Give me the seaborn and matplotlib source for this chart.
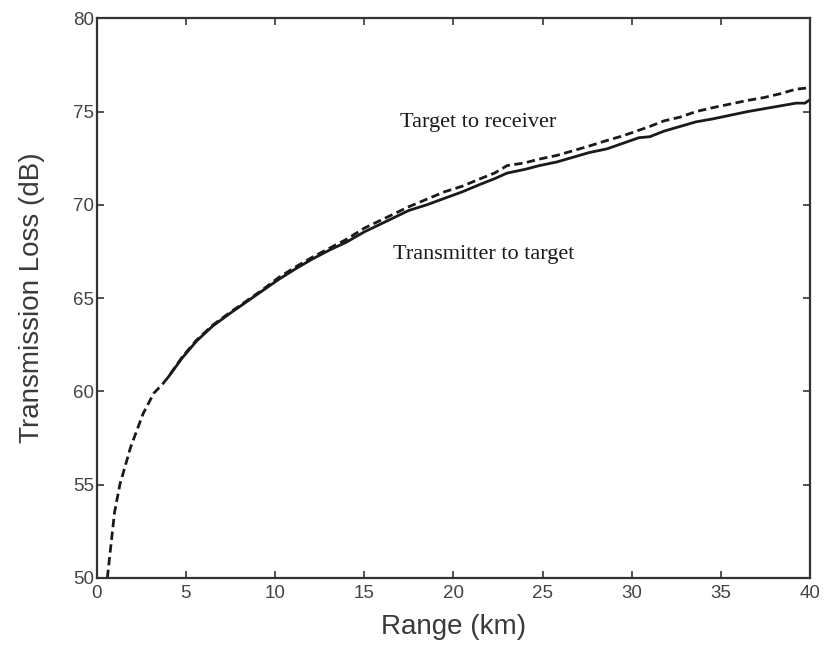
import matplotlib
matplotlib.use("Agg")
import matplotlib.pyplot as plt
import seaborn as sns
import pandas as pd

sns.set_style("ticks")
plt.rcParams['font.family'] = ['Liberation Sans', 'DejaVu Sans']

# values (range in km, transmission loss in dB)
rx_range = [0.6, 1.0, 1.3, 1.9, 2.6, 3.2, 3.7, 4.0, 4.8, 5.6, 6.5, 7.5, 8.4,
            9.3, 10.2, 11.2, 12.1, 13.1, 14.0, 15.0, 16.2, 17.5, 18.5, 19.5,
            20.5, 21.5, 22.3, 23.0, 24.0, 24.8, 25.8, 26.7, 27.6, 28.6, 29.5,
            30.4, 31.0, 31.8, 32.7, 33.6, 34.5, 35.5, 36.5, 37.4, 38.3, 39.2,
            39.7, 40.0]
target_to_rx = [50.0, 53.5, 55.0, 57.0, 58.8, 59.9, 60.4, 60.75, 61.85, 62.75,
                63.55, 64.25, 64.85, 65.45, 66.1, 66.7, 67.2, 67.7, 68.15, 68.75,
                69.3, 69.9, 70.3, 70.7, 71.0, 71.4, 71.7, 72.1, 72.25, 72.45,
                72.65, 72.9, 73.15, 73.45, 73.7, 74.0, 74.2, 74.5, 74.7, 75.0,
                75.2, 75.4, 75.6, 75.75, 75.95, 76.2, 76.25, 76.3]

# the solid curve hides under the dashed one close in
tx_range = [4.0, 4.8, 5.6, 6.5, 7.5, 8.4, 9.3, 10.2, 11.2, 12.1, 13.1, 14.0,
            15.0, 16.2, 17.5, 18.5, 19.5, 20.5, 21.5, 22.3, 23.0, 24.0, 24.8,
            25.8, 26.7, 27.6, 28.6, 29.5, 30.4, 31.0, 31.8, 32.7, 33.6, 34.5,
            35.5, 36.5, 37.4, 38.3, 39.2, 39.7, 40.0]
tx_to_target = [60.75, 61.8, 62.7, 63.5, 64.2, 64.8, 65.4, 66.0, 66.6, 67.1,
                67.6, 68.0, 68.55, 69.1, 69.7, 70.0, 70.35, 70.7, 71.1, 71.4,
                71.7, 71.9, 72.1, 72.3, 72.55, 72.8, 73.0, 73.3, 73.6, 73.65,
                73.95, 74.2, 74.45, 74.6, 74.8, 75.0, 75.15, 75.3, 75.45, 75.45,
                75.65]

df = pd.DataFrame({"range": tx_range + rx_range,
                   "tl": tx_to_target + target_to_rx,
                   "path": ["tx"] * len(tx_range) + ["rx"] * len(rx_range)})

fig = plt.figure(figsize=(8.26, 6.52), dpi=100)
ax = fig.add_axes([0.117, 0.1135, 0.864, 0.8585])

sns.lineplot(data=df, x="range", y="tl", hue="path", style="path",
             palette={"tx": "#1a1a1a", "rx": "#1a1a1a"},
             dashes={"tx": "", "rx": (3, 1.6)}, linewidth=2.0,
             legend=False, ax=ax)

ax.set_xlim(0, 40)
ax.set_ylim(50, 80)
ax.set_xticks(range(0, 41, 5))
ax.set_yticks(range(50, 81, 5))
ax.tick_params(direction="in", length=5, width=1.3, top=True, right=True,
               labelsize=13.5, colors="#444444")
ax.tick_params(axis="y", pad=2)
ax.tick_params(axis="x", pad=5)
for s in ax.spines.values():
    s.set_linewidth(1.6)
    s.set_color("#333333")

ax.set_xlabel("Range (km)", fontsize=20, color="#3a3a3a", labelpad=9)
ax.set_ylabel("Transmission Loss (dB)", fontsize=20, color="#3a3a3a", labelpad=20)

ax.text(17.0, 74.4, "Target to receiver", family="Liberation Serif",
        fontsize=16, va="center", color="#1a1a1a")
ax.text(16.6, 67.35, "Transmitter to target", family="Liberation Serif",
        fontsize=16, va="center", color="#1a1a1a")

fig.savefig("out.png", dpi=100)
